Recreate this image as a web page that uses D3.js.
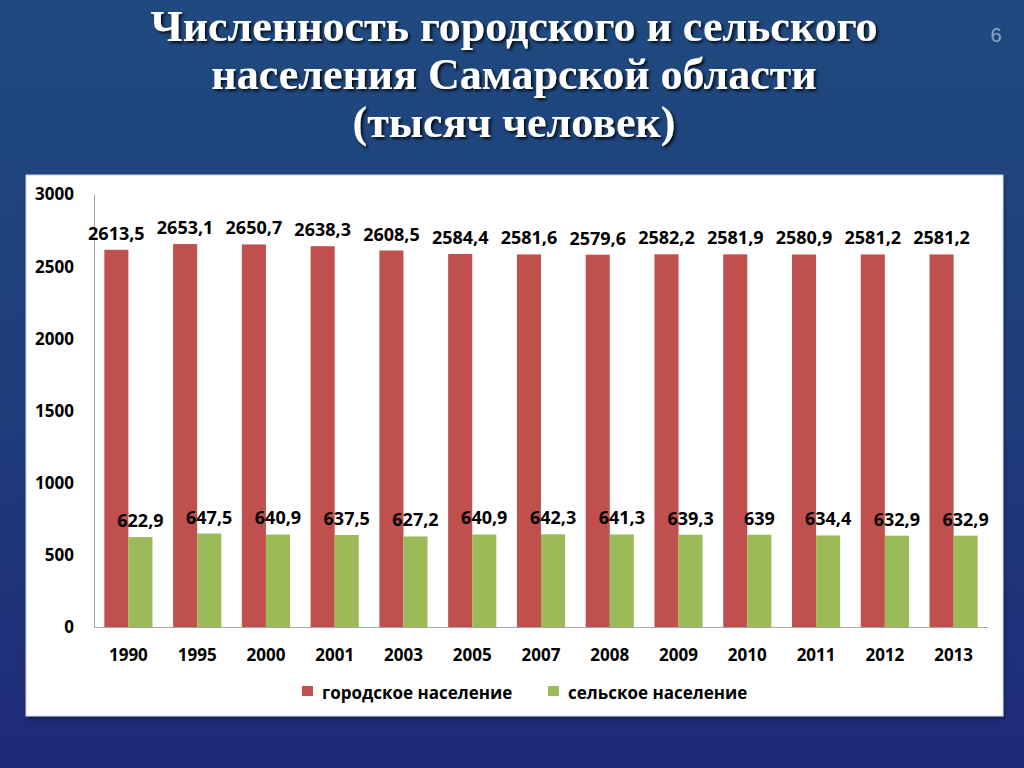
<!DOCTYPE html>
<html>
<head>
<meta charset="utf-8">
<script src="https://cdn.jsdelivr.net/npm/d3@7"></script>
<style>
  body { margin: 0; }
  svg { display: block; }
</style>
</head>
<body>
<svg id="slide" width="1024" height="768"></svg>
<script>
const years = ['1990', '1995', '2000', '2001', '2003', '2005', '2007', '2008', '2009', '2010', '2011', '2012', '2013'];
const urban = [2613.5, 2653.1, 2650.7, 2638.3, 2608.5, 2584.4, 2581.6, 2579.6, 2582.2, 2581.9, 2580.9, 2581.2, 2581.2];
const rural = [622.9, 647.5, 640.9, 637.5, 627.2, 640.9, 642.3, 641.3, 639.3, 639, 634.4, 632.9, 632.9];
const yTicks = [0, 500, 1000, 1500, 2000, 2500, 3000];
const seriesNames = ['городское население', 'сельское население'];
const titleLines = ['Численность городского и сельского', 'населения Самарской области', '(тысяч человек)'];

const RED = '#c0504d', GREEN = '#9bbb59';
const fmt = v => String(v).replace('.', ',');

const svg = d3.select('#slide');
const defs = svg.append('defs');

const bg = defs.append('linearGradient').attr('id', 'bg').attr('x1', 0).attr('y1', 0).attr('x2', 0).attr('y2', 1);
bg.append('stop').attr('offset', '0%').attr('stop-color', '#1f4a7f');
bg.append('stop').attr('offset', '55%').attr('stop-color', '#1f3c7b');
bg.append('stop').attr('offset', '100%').attr('stop-color', '#1f2a77');

const shadow = defs.append('filter').attr('id', 'shadow').attr('x', '-5%').attr('y', '-20%').attr('width', '110%').attr('height', '140%');
shadow.append('feDropShadow').attr('dx', 2).attr('dy', 2).attr('stdDeviation', 1.5).attr('flood-color', '#000').attr('flood-opacity', 0.85);

const panelShadow = defs.append('filter').attr('id', 'pshadow');
panelShadow.append('feDropShadow').attr('dx', 1).attr('dy', 2).attr('stdDeviation', 2).attr('flood-color', '#000').attr('flood-opacity', 0.4);

svg.append('rect').attr('width', 1024).attr('height', 768).attr('fill', 'url(#bg)');

// title
svg.append('g').attr('filter', 'url(#shadow)')
  .selectAll('text').data(titleLines)
  .enter().append('text')
  .attr('x', 514)
  .attr('y', (d, i) => 41 + i * 48)
  .attr('text-anchor', 'middle')
  .attr('fill', '#fff')
  .style('font-family', '"Liberation Serif", serif')
  .style('font-weight', 700)
  .style('font-size', '44px')
  .text(d => d);

svg.append('text')
  .attr('x', 996).attr('y', 42)
  .attr('text-anchor', 'middle')
  .attr('fill', '#8ea5c6')
  .style('font-family', '"Liberation Sans", sans-serif')
  .style('font-size', '20px')
  .text('6');

// chart panel
svg.append('rect')
  .attr('x', 26).attr('y', 175).attr('width', 977).attr('height', 541)
  .attr('fill', '#fff')
  .attr('stroke', '#c9d3e3')
  .attr('filter', 'url(#pshadow)');

const plotLeft = 94, plotRight = 988, plotTop = 194, plotBottom = 627;

const x = d3.scaleBand().domain(years).range([plotLeft, plotRight]).paddingInner(0.3).paddingOuter(0.15);
const sub = d3.scaleBand().domain([0, 1]).range([0, x.bandwidth()]);
const y = d3.scaleLinear().domain([0, 3000]).range([plotBottom, plotTop]);

const font = 'font-family: "Open Sans", sans-serif; font-weight: 700; fill: #000;';

// axes
const yAxis = d3.axisLeft(y).tickValues(yTicks).tickFormat(d3.format('d')).tickSize(0).tickPadding(20);
const yG = svg.append('g').attr('transform', `translate(${plotLeft},0)`).call(yAxis);
yG.select('.domain').attr('stroke', '#a6a6a6');
yG.selectAll('text').attr('style', font + 'font-size: 17px;').attr('dy', '0.35em');

const xAxis = d3.axisBottom(x).tickSize(0).tickPadding(22);
const xG = svg.append('g').attr('transform', `translate(0,${plotBottom})`).call(xAxis);
xG.select('.domain').attr('stroke', '#a6a6a6');
xG.selectAll('text').attr('style', font + 'font-size: 17px;');

const series = [urban, rural];
const colors = [RED, GREEN];

series.forEach((vals, s) => {
  svg.selectAll(`rect.s${s}`).data(vals)
    .enter().append('rect')
    .attr('class', `s${s}`)
    .attr('x', (d, i) => x(years[i]) + sub(s))
    .attr('y', d => y(d))
    .attr('width', sub.bandwidth())
    .attr('height', d => plotBottom - y(d))
    .attr('fill', colors[s]);

  svg.selectAll(`text.l${s}`).data(vals)
    .enter().append('text')
    .attr('class', `l${s}`)
    .attr('x', (d, i) => x(years[i]) + sub(s) + sub.bandwidth() / 2)
    .attr('y', d => y(d) - 10)
    .attr('text-anchor', 'middle')
    .attr('style', font + 'font-size: 18px;')
    .text(d => fmt(d));
});

// legend
const legend = svg.append('g').attr('transform', 'translate(302,686)');
const item = legend.selectAll('g').data(seriesNames)
  .enter().append('g')
  .attr('transform', (d, i) => `translate(${i * 246},0)`);
item.append('rect').attr('width', 11).attr('height', 10).attr('fill', (d, i) => colors[i]);
item.append('text')
  .attr('x', 20).attr('y', 13)
  .attr('style', font + 'font-size: 17px;')
  .text(d => d);
</script>
</body>
</html>
